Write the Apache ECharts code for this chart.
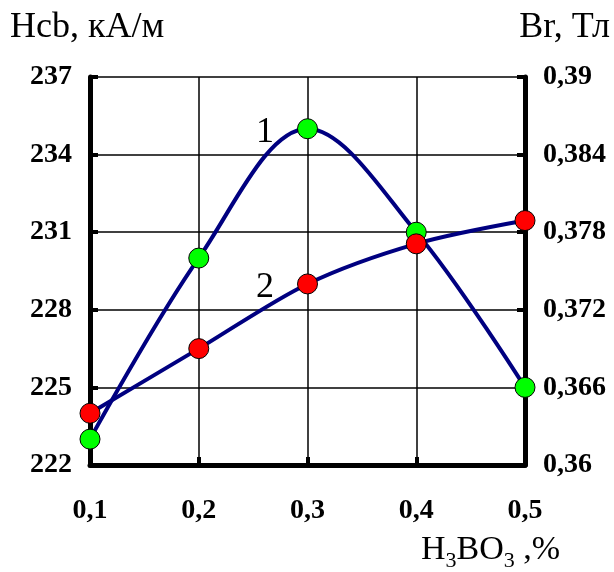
<!DOCTYPE html>
<html>
<head>
<meta charset="utf-8">
<script src="https://cdn.jsdelivr.net/npm/echarts@6/dist/echarts.min.js"></script>
<style>
  html, body { margin: 0; padding: 0; background: #fff; }
  #chart { width: 614px; height: 572px; }
</style>
</head>
<body>
<div id="chart"></div>
<script>
var categories = ['0,1', '0,2', '0,3', '0,4', '0,5'];
var hcbValues = [223, 230, 235, 231, 225];          // кривая 1, кА/м
var brValues = [0.364, 0.369, 0.374, 0.3771, 0.3789]; // кривая 2, Тл

var serif = '"Liberation Serif", "DejaVu Serif", serif';

var dom = document.getElementById('chart');
var myChart = echarts.init(dom);

function comma(v, d) {
    var s = Number(v).toFixed(d);
    if (s.indexOf('.') >= 0) s = s.replace(/0+$/, '').replace(/\.$/, '');
    return s.replace('.', ',');
}

var axisLabelStyle = { color: '#000', fontFamily: serif, fontWeight: 'bold', fontSize: 28, letterSpacing: -2.5 };

var option = {
    animation: false,
    grid: { left: 90, right: 89, top: 77, bottom: 107 },
    xAxis: {
        type: 'category',
        data: categories,
        boundaryGap: false,
        axisLine: { lineStyle: { color: '#000', width: 5 } },
        axisTick: { show: true, inside: true, length: 8, lineStyle: { color: '#000', width: 4 }, alignWithLabel: true },
        axisLabel: Object.assign({ margin: 32 }, axisLabelStyle),
        splitLine: { show: true, lineStyle: { color: '#000', width: 1.5 } }
    },
    yAxis: [{
        type: 'value',
        min: 222, max: 237, interval: 3,
        axisLine: { show: true, lineStyle: { color: '#000', width: 5 } },
        axisTick: { show: true, inside: true, length: 8, lineStyle: { color: '#000', width: 4 } },
        axisLabel: Object.assign({ margin: 18 }, axisLabelStyle),
        splitLine: { show: true, lineStyle: { color: '#000', width: 1.5 } }
    }, {
        type: 'value',
        min: 0.36, max: 0.39, interval: 0.006,
        position: 'right',
        axisLine: { show: true, lineStyle: { color: '#000', width: 5 } },
        axisTick: { show: true, inside: true, length: 8, lineStyle: { color: '#000', width: 4 } },
        axisLabel: Object.assign({ margin: 18, formatter: function (v) { return comma(v, 3); } }, axisLabelStyle),
        splitLine: { show: false }
    }],
    series: [{
        name: '1',
        type: 'line',
        yAxisIndex: 0,
        data: hcbValues,
        smooth: 0.35,
        symbol: 'circle',
        symbolSize: 20,
        lineStyle: { color: '#000080', width: 4 },
        itemStyle: { color: '#00ff00', borderColor: '#000', borderWidth: 1 },
        z: 3
    }, {
        name: '2',
        type: 'line',
        yAxisIndex: 1,
        data: brValues,
        smooth: 0.3,
        symbol: 'circle',
        symbolSize: 20,
        lineStyle: { color: '#000080', width: 4 },
        itemStyle: { color: '#ff0000', borderColor: '#000', borderWidth: 1 },
        z: 4
    }],
    graphic: [
        { type: 'text', left: 10, top: 10, style: { text: 'Hcb, кА/м', font: '36px ' + serif, fill: '#000' } },
        { type: 'text', right: 4, top: 10, style: { text: 'Br, Тл', font: '36px ' + serif, fill: '#000' } },
        { type: 'text', left: 256, top: 115, style: { text: '1', font: '36px ' + serif, fill: '#000' } },
        { type: 'text', left: 256, top: 270, style: { text: '2', font: '36px ' + serif, fill: '#000' } },
        {
            type: 'text', left: 421, top: 533,
            style: {
                text: '{a|H}{s|3}{a|BO}{s|3}{a| ,%}',
                rich: {
                    a: { fontFamily: serif, fontSize: 34, color: '#000', verticalAlign: 'top' },
                    s: { fontFamily: serif, fontSize: 22, color: '#000', verticalAlign: 'top', padding: [17, 0, 0, 0] }
                }
            }
        }
    ]
};

myChart.setOption(option, true);
</script>
</body>
</html>
